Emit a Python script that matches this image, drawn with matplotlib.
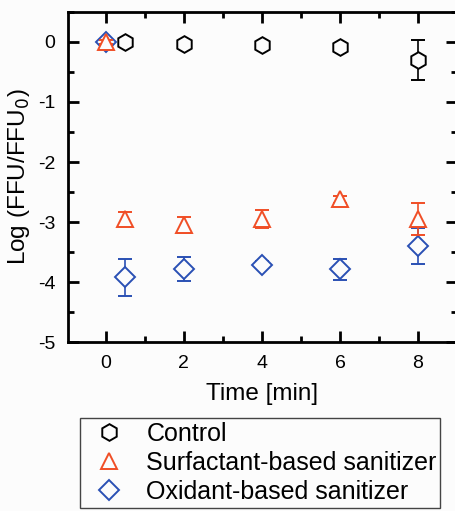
import matplotlib
matplotlib.use("Agg")
import matplotlib.pyplot as plt
from matplotlib.ticker import MultipleLocator

plt.rcParams["font.family"] = ["Liberation Sans", "DejaVu Sans"]
plt.rcParams["axes.unicode_minus"] = False

# Control
ctrl_t = [0.5, 2, 4, 6, 8]
ctrl_y = [0.0, -0.03, -0.05, -0.08, -0.30]
ctrl_err = [0.05, 0.05, 0.05, 0.05, 0.33]

# Surfactant-based sanitizer
surf_t = [0, 0.5, 2, 4, 6, 8]
surf_y = [0.0, -2.95, -3.05, -2.95, -2.62, -2.95]
surf_err = [0.03, 0.12, 0.13, 0.15, 0.06, 0.27]

# Oxidant-based sanitizer
oxi_t = [0, 0.5, 2, 4, 6, 8]
oxi_y = [0.0, -3.92, -3.79, -3.71, -3.79, -3.40]
oxi_err = [0.03, 0.31, 0.20, 0.06, 0.17, 0.30]

RED = "#f04e26"
BLUE = "#2a50b4"
BG = "#fcfcfc"

fig = plt.figure(figsize=(4.55, 5.11), dpi=100)
fig.patch.set_facecolor(BG)
ax = fig.add_axes([68 / 455, 169 / 511, 389 / 455, 330 / 511])
ax.set_facecolor(BG)

common = dict(ls="none", mfc=BG, capsize=5, elinewidth=1.2, capthick=1.2, mew=1.4)
ax.errorbar(ctrl_t, ctrl_y, yerr=ctrl_err, fmt="h", ms=12, color="black",
            label="Control", **common)
ax.errorbar(surf_t, surf_y, yerr=surf_err, fmt="^", ms=12, color=RED,
            label="Surfactant-based sanitizer", zorder=4, **common)
ax.errorbar(oxi_t, oxi_y, yerr=oxi_err, fmt="D", ms=10, color=BLUE,
            label="Oxidant-based sanitizer", zorder=3, **common)

ax.set_xlim(-0.97, 9.0)
ax.set_ylim(-5, 0.5)
ax.xaxis.set_major_locator(MultipleLocator(2))
ax.xaxis.set_minor_locator(MultipleLocator(1))
ax.yaxis.set_major_locator(MultipleLocator(1))
ax.yaxis.set_minor_locator(MultipleLocator(0.5))
ax.tick_params(which="both", direction="in", top=True, right=True, width=2,
               labelsize=14, pad=9)
ax.tick_params(which="major", length=8)
ax.tick_params(which="minor", length=4)
for s in ax.spines.values():
    s.set_linewidth(2)

ax.set_xlabel("Time [min]", fontsize=17.5, labelpad=8)
ax.set_ylabel("Log (FFU/FFU$_0$)", fontsize=17.5, labelpad=4)

handles, labels = ax.get_legend_handles_labels()
handles = [h[0] for h in handles]
fig.legend(handles, labels, loc="upper left", bbox_to_anchor=(80 / 455, 1 - 418 / 511),
           fontsize=18, frameon=True, fancybox=False, edgecolor="#444444",
           facecolor=BG, framealpha=1,
           handletextpad=0.5, handlelength=2.0, borderpad=0.15, labelspacing=0.2,
           borderaxespad=0)

fig.savefig("out.png", dpi=100, facecolor=fig.get_facecolor())
